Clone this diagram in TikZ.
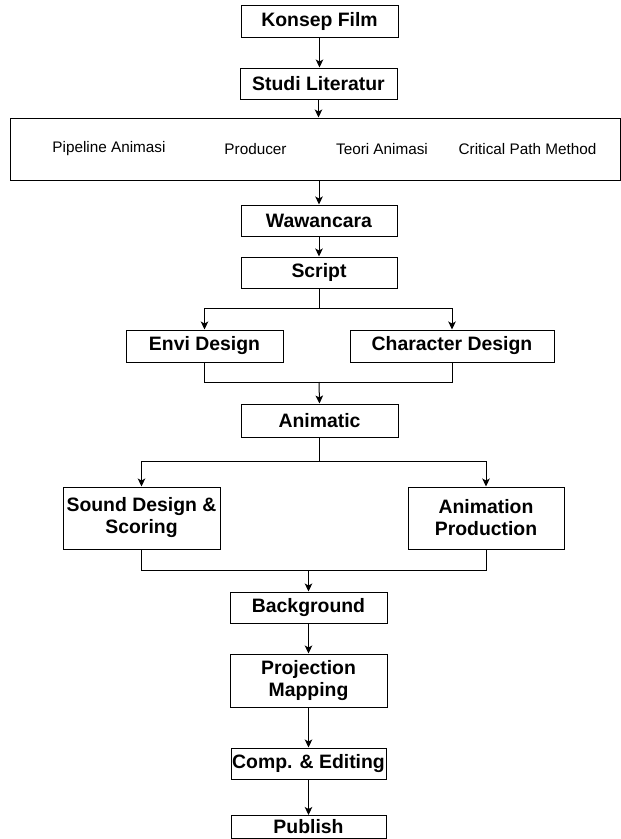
\documentclass[tikz,border=0pt]{standalone}
\usepackage{fontspec}
\setmainfont{Liberation Sans}
\usetikzlibrary{arrows.meta}
\tikzset{
  box/.style={draw=black, line width=1pt, fill=white, inner sep=0pt, align=center,
    font=\fontsize{19.4}{22}\selectfont\bfseries},
  itemtext/.style={inner sep=0pt, font=\fontsize{15.3}{18}\selectfont},
  conn/.style={draw=black, line width=1pt},
  arr/.style={conn, -{Stealth[length=8pt,width=7.5pt,inset=2pt]}},
}
\newcommand{\bx}[6]{\node[box, minimum width=#4pt, minimum height=#5pt] (#1) at (#2,#3) {#6};}
\begin{document}
\begin{tikzpicture}[x=1pt, y=-1pt]
\useasboundingbox (0,0) rectangle (621,839);
% nodes
\bx{konsep}{319.5}{21}{157}{32}{Konsep Film}
\bx{studi}{318.5}{83.5}{157}{31}{Studi Literatur}
\node[box, minimum width=610pt, minimum height=62pt, font=\fontsize{15.3}{18}\selectfont] (lit) at (315,149) {};
\node[itemtext] (pipe) at (109,149) {Pipeline Animasi};
\node[itemtext] (prod) at (255.5,149) {Producer};
\node[itemtext] (teori) at (382,149) {Teori Animasi};
\node[itemtext] (cpm) at (527.5,149) {Critical Path Method};
\bx{waw}{319}{220.5}{156}{31}{Wawancara}
\bx{script}{319}{272.5}{156}{31}{Script}
\bx{envi}{204.5}{346}{157}{32}{Envi Design}
\bx{char}{452}{346}{204}{32}{Character Design}
\bx{anim}{319.5}{420.5}{157}{33}{Animatic}
\bx{sound}{141.5}{518}{157}{62}{Sound Design \&\\Scoring}
\bx{ap}{486}{518}{156}{62}{Animation\\Production}
\bx{bg}{308.5}{607.5}{157}{31}{Background}
\bx{proj}{308.5}{680.5}{157}{53}{Projection\\Mapping}
\bx{comp}{308.5}{763.5}{155}{31}{Comp. \& Editing}
\bx{pub}{308.5}{827}{155}{23}{Publish}
% junction points
\coordinate (fork1) at (319,308.5);
\coordinate (join1) at (319,382);
\coordinate (fork2) at (319.5,461);
\coordinate (join2) at (308.5,570);
% connectors
\draw[arr] (konsep.south) -- (konsep.south |- studi.north);
\draw[arr] (studi.south) -- (studi.south |- lit.north);
\draw[arr] (waw.north |- lit.south) -- (waw.north);
\draw[arr] (waw.south) -- (script.north);
\draw[conn] (script.south) -- (fork1);
\draw[arr] (fork1) -| (envi.north);
\draw[arr] (fork1) -| (char.north);
\draw[conn] (envi.south) -- (envi.south |- join1) -- (char.south |- join1) -- (char.south);
\draw[arr] (join1) -- (anim.north);
\draw[conn] (anim.south) -- (fork2);
\draw[arr] (fork2) -| (sound.north);
\draw[arr] (fork2) -| (ap.north);
\draw[conn] (sound.south) -- (sound.south |- join2) -- (ap.south |- join2) -- (ap.south);
\draw[arr] (join2) -- (bg.north);
\draw[arr] (bg.south) -- (proj.north);
\draw[arr] (proj.south) -- (comp.north);
\draw[arr] (comp.south) -- (pub.north);
\end{tikzpicture}
\end{document}
